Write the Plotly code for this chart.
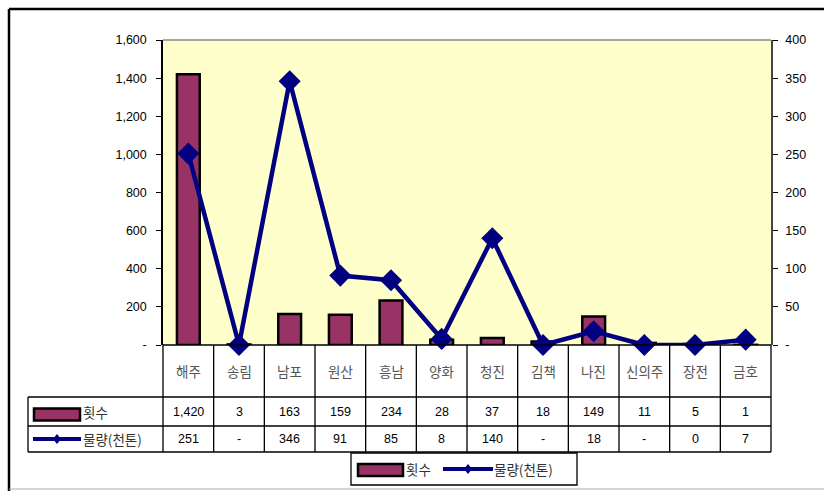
import plotly.graph_objects as go

categories = ["해주", "송림", "남포", "원산", "흥남", "양화", "청진", "김책", "나진", "신의주", "장전", "금호"]
counts = [1420, 3, 163, 159, 234, 28, 37, 18, 149, 11, 5, 1]
# None = "-" in the table (plotted at zero)
volumes = [251, None, 346, 91, 85, 8, 140, None, 18, None, 0, 7]
left_ticks = [0, 200, 400, 600, 800, 1000, 1200, 1400, 1600]
right_ticks = [0, 50, 100, 150, 200, 250, 300, 350, 400]
series_names = ["횟수", "물량(천톤)"]

W, H = 824, 491
L, R, T, B = 163, 771, 40, 345
PW, PH = R - L, B - T

def px(x):
    return (x - L) / PW

def py(y):
    return (B - y) / PH

BAR = "#993366"
LINE = "#000080"
KFONT = "Noto Sans CJK KR"
NFONT = "Liberation Sans"

xs = list(range(len(categories)))
vol_plot = [v if v is not None else 0 for v in volumes]

fig = go.Figure()
fig.add_trace(go.Bar(
    x=xs, y=counts, name=series_names[0], width=0.45,
    marker=dict(color=BAR, line=dict(color="black", width=2.5)),
    yaxis="y",
))
fig.add_trace(go.Scatter(
    x=xs, y=vol_plot, name=series_names[1], mode="lines+markers",
    line=dict(color=LINE, width=4.5),
    marker=dict(symbol="diamond", size=17, color=LINE),
    yaxis="y2", cliponaxis=False,
))

def fmt(v):
    return "{:,}".format(v)

shapes = []
ann = []

def line(x0, y0, x1, y1, color="black", width=1.3):
    shapes.append(dict(type="line", xref="paper", yref="paper",
                       x0=px(x0), y0=py(y0), x1=px(x1), y1=py(y1),
                       line=dict(color=color, width=width), layer="above"))

# outer frame
line(9, 9, 830, 9, width=2.5)
line(9, 9, 9, 495, width=2.5)
line(9, 489, 830, 489, color="#aaaaaa", width=1)

# plot area top gray border
line(L, T, R, T, color="#888888", width=1.5)

# table grid
row1, row2, row3 = 397, 426, 452
line(L, B, R, B)
line(28, row1, R, row1)
line(28, row2, R, row2)
line(28, row3, R, row3)
line(28, row1, 28, row3)
cw = PW / len(categories)
for k in range(len(categories) + 1):
    xx = L + cw * k
    line(xx, B, xx, row3)

for i, c in enumerate(categories):
    ann.append(dict(x=i, xref="x", y=py(371), yref="paper", text=c, showarrow=False,
                    xanchor="center", yanchor="middle",
                    font=dict(family=KFONT, size=13.5, color="#555555")))
    ann.append(dict(x=i, xref="x", y=py(411.5), yref="paper", text=fmt(counts[i]), showarrow=False,
                    xanchor="center", yanchor="middle",
                    font=dict(family=NFONT, size=12.5, color="black")))
    v = volumes[i]
    ann.append(dict(x=i, xref="x", y=py(439), yref="paper", text="-" if v is None else fmt(v),
                    showarrow=False, xanchor="center", yanchor="middle",
                    font=dict(family=NFONT, size=12.5, color="black")))

def bar_key(x0, x1, yc):
    shapes.append(dict(type="rect", xref="paper", yref="paper",
                       x0=px(x0), x1=px(x1), y0=py(yc - 6), y1=py(yc + 6),
                       fillcolor=BAR, line=dict(color="black", width=2.5), layer="above"))

def line_key(x0, x1, yc):
    line(x0, yc, x1, yc, color=LINE, width=4)
    xm = (x0 + x1) / 2
    shapes.append(dict(type="path", xref="paper", yref="paper",
                       path="M {} {} L {} {} L {} {} L {} {} Z".format(
                           px(xm - 4), py(yc), px(xm), py(yc - 5), px(xm + 4), py(yc), px(xm), py(yc + 5)),
                       fillcolor=LINE, line=dict(color=LINE, width=0), layer="above"))

def label(x, yc, text):
    ann.append(dict(x=px(x), xref="paper", y=py(yc), yref="paper", text=text, showarrow=False,
                    xanchor="left", yanchor="middle",
                    font=dict(family=KFONT, size=13.5, color="#333333")))

# row headers
bar_key(34, 80, 414.5)
label(81, 411.5, series_names[0])
line_key(33, 81, 439)
label(81, 439, series_names[1])

# bottom legend box
shapes.append(dict(type="rect", xref="paper", yref="paper",
                   x0=px(351), x1=px(577), y0=py(453), y1=py(485),
                   fillcolor="white", line=dict(color="black", width=1.3), layer="above"))
bar_key(358, 403, 470)
label(404, 469, series_names[0])
line_key(443, 493, 469)
label(492, 469, series_names[1])

fig.update_layout(
    width=W, height=H,
    margin=dict(l=L, r=W - R, t=T, b=H - B, autoexpand=False),
    paper_bgcolor="white", plot_bgcolor="#FFFFCC",
    showlegend=False, bargap=0.5,
    xaxis=dict(range=[-0.5, len(categories) - 0.5], showticklabels=False, ticks="",
               showgrid=False, zeroline=False, showline=False, fixedrange=True),
    yaxis=dict(range=[0, 1600], tickvals=left_ticks,
               ticktext=["-" if t == 0 else fmt(t) for t in left_ticks],
               ticks="outside", ticklen=5, tickcolor="black", showgrid=False, zeroline=False,
               showline=True, linecolor="black", linewidth=1.5, ticklabelstandoff=7,
               tickfont=dict(family=NFONT, size=12.5, color="black")),
    yaxis2=dict(range=[0, 400], overlaying="y", side="right", tickvals=right_ticks,
                ticktext=["-" if t == 0 else str(t) for t in right_ticks],
                ticks="outside", ticklen=5, tickcolor="black", showgrid=False, zeroline=False,
                showline=True, linecolor="#444444", linewidth=1.5, ticklabelstandoff=5,
                tickfont=dict(family=NFONT, size=12.5, color="black")),
    shapes=shapes, annotations=ann,
)

fig.write_html("out.html", config={"displayModeBar": False},
               post_script="document.body.style.margin='0';")
